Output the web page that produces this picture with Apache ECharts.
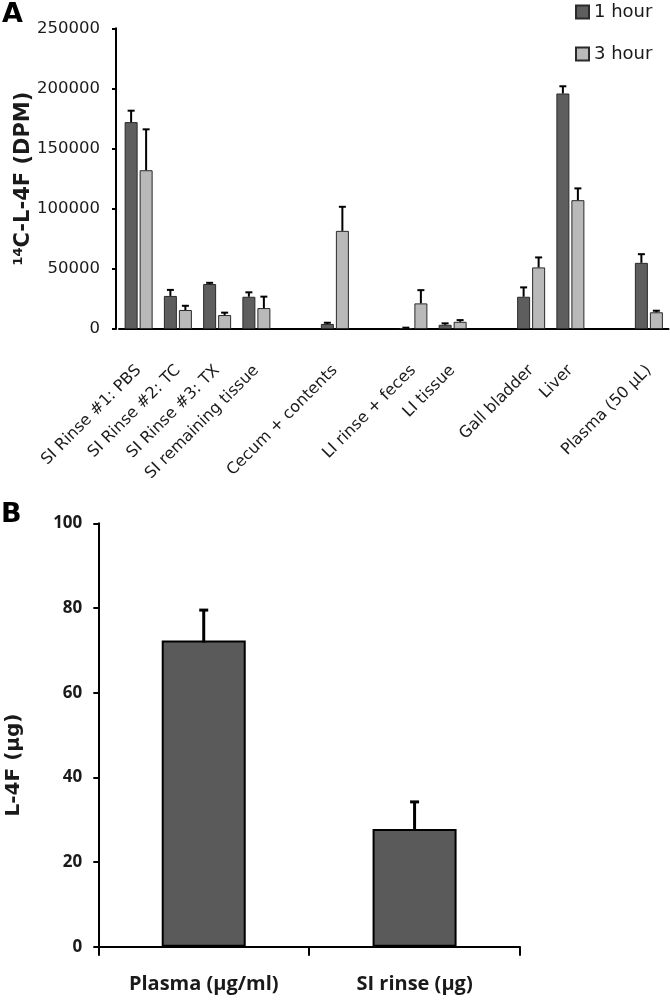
<!DOCTYPE html>
<html>
<head>
<meta charset="utf-8">
<script src="https://cdn.jsdelivr.net/npm/echarts@6/dist/echarts.min.js"></script>
<style>
html,body{margin:0;padding:0;background:#fff;}
#c{width:670px;height:1004px;}
</style>
</head>
<body>
<div id="c"></div>
<script>
// ---- Panel A data ----
const catsA = ['SI Rinse #1: PBS','SI Rinse #2: TC','SI Rinse #3: TX','SI remaining tissue','',
  'Cecum + contents','','LI rinse + feces','LI tissue','','Gall bladder','Liver','','Plasma (50 \u00b5L)'];
const hour1 = [172000, 27500, 37400, 26800, null, 4200, null, 800, 3500, null, 26800, 195800, null, 55000];
const hour1Err = [9500, 5000, 1000, 3700, null, 1000, null, 300, 1200, null, 7800, 6000, null, 7200];
const hour3 = [132000, 15800, 11600, 17400, null, 81600, null, 21300, 6000, null, 51200, 107100, null, 13900];
const hour3Err = [34000, 3500, 2000, 9500, null, 20000, null, 11000, 1400, null, 8300, 9800, null, 1300];
const ticksA = {min: 0, max: 250000, interval: 50000};

// ---- Panel B data ----
const catsB = ['Plasma (\u00b5g/ml)', 'SI rinse (\u00b5g)'];
const valsB = [72.3, 27.8];
const errB = [7.2, 6.4];
const ticksB = {min: 0, max: 100, interval: 20};

const barWA = 13, gapA = 2;
const offA = (barWA + gapA) / 2;

function errData(vals, errs, sign) {
  const out = [];
  vals.forEach((v, i) => { if (v != null) out.push([i, v, errs[i], sign]); });
  return out;
}

function errRender(lineW, capW, startPad) {
  return function (params, api) {
    const idx = api.value(0), v = api.value(1), e = api.value(2), s = api.value(3);
    const p0 = api.coord([idx, v]);
    const p1 = api.coord([idx, v + e]);
    const x = p0[0] + s * offA;
    const style = {stroke: '#000', lineWidth: lineW};
    return {
      type: 'group',
      children: [
        {type: 'line', shape: {x1: x, y1: p0[1] + startPad, x2: x, y2: p1[1]}, style: style},
        {type: 'line', shape: {x1: x - capW / 2, y1: p1[1], x2: x + capW / 2, y2: p1[1]}, style: style}
      ]
    };
  };
}

const chart = echarts.init(document.getElementById('c'), null, {renderer: 'canvas'});
const txt = '#1a1a1a';
chart.setOption({
  animation: false,
  backgroundColor: '#fff',
  title: [
    {text: 'A', left: 2, top: 1, padding: 0, textStyle: {fontFamily: 'DejaVu Sans', fontWeight: 'bold', fontSize: 27, color: '#000'}},
    {text: 'B', left: 1, top: 501, padding: 0, textStyle: {fontFamily: 'DejaVu Sans', fontWeight: 'bold', fontSize: 27, color: '#000'}}
  ],
  legend: {
    data: ['1 hour', '3 hour'],
    orient: 'vertical',
    left: 575, top: 3,
    itemWidth: 13, itemHeight: 13, itemGap: 24,
    icon: 'rect',
    textStyle: {fontFamily: 'DejaVu Sans', fontSize: 18, color: txt},
    padding: 0
  },
  grid: [
    {left: 119, top: 28.3, width: 549.5, height: 300.7, outerBoundsMode: 'none', containLabel: false},
    {left: 98.3, top: 523.3, width: 421.7, height: 423.4, outerBoundsMode: 'none', containLabel: false}
  ],
  xAxis: [
    {
      type: 'category', gridIndex: 0, data: catsA,
      axisLine: {lineStyle: {color: '#000', width: 2}},
      axisTick: {show: false},
      axisLabel: {interval: 0, rotate: 45, margin: 39, fontFamily: 'DejaVu Sans', fontSize: 16, color: txt}
    },
    {
      type: 'category', gridIndex: 1, data: catsB,
      axisLine: {lineStyle: {color: '#000', width: 2}},
      axisTick: {show: true, length: 9, lineStyle: {color: '#000', width: 2}},
      axisLabel: {margin: 28, fontFamily: 'Open Sans', fontWeight: 'bold', fontSize: 20, color: txt}
    }
  ],
  yAxis: [
    {
      type: 'value', gridIndex: 0, min: ticksA.min, max: ticksA.max, interval: ticksA.interval,
      offset: 3,
      splitLine: {show: false},
      axisLine: {show: true, lineStyle: {color: '#000', width: 2}},
      axisTick: {show: true, length: 4, lineStyle: {color: '#000', width: 2}},
      axisLabel: {margin: 16, fontFamily: 'DejaVu Sans', fontSize: 16.5, color: txt, formatter: v => String(v)},
      name: '{sup|14}{m|C-L-4F (DPM)}',
      nameLocation: 'middle', nameGap: 80, nameMoveOverlap: false,
      nameTextStyle: {
        rich: {
          sup: {fontFamily: 'DejaVu Sans', fontWeight: 'bold', fontSize: 13, color: txt, verticalAlign: 'top', lineHeight: 24},
          m: {fontFamily: 'DejaVu Sans', fontWeight: 'bold', fontSize: 21, color: txt, lineHeight: 24}
        }
      }
    },
    {
      type: 'value', gridIndex: 1, min: ticksB.min, max: ticksB.max, interval: ticksB.interval,
      splitLine: {show: false},
      axisLine: {show: true, lineStyle: {color: '#000', width: 2}},
      axisTick: {show: true, length: 5, lineStyle: {color: '#000', width: 2}},
      axisLabel: {margin: 16, fontFamily: 'Open Sans', fontWeight: 'bold', fontSize: 17, color: txt, formatter: v => String(v)},
      name: 'L-4F (\u00b5g)',
      nameLocation: 'middle', nameGap: 75, nameMoveOverlap: false,
      nameTextStyle: {fontFamily: 'DejaVu Sans', fontWeight: 'bold', fontSize: 20, color: txt, padding: [0, 60, 0, 0]}
    }
  ],
  series: [
    {
      name: '1 hour', type: 'bar', xAxisIndex: 0, yAxisIndex: 0, data: hour1,
      barWidth: barWA, barGap: (gapA / barWA * 100) + '%',
      itemStyle: {color: '#5e5e5e', borderColor: '#2a2a2a', borderWidth: 1}
    },
    {
      name: '3 hour', type: 'bar', xAxisIndex: 0, yAxisIndex: 0, data: hour3,
      barWidth: barWA, barGap: (gapA / barWA * 100) + '%',
      itemStyle: {color: '#b9b9b9', borderColor: '#2a2a2a', borderWidth: 1}
    },
    {
      type: 'custom', xAxisIndex: 0, yAxisIndex: 0, z: 5,
      renderItem: errRender(2, 7, 0), encode: {x: 0, y: 1},
      data: errData(hour1, hour1Err, -1), silent: true
    },
    {
      type: 'custom', xAxisIndex: 0, yAxisIndex: 0, z: 5,
      renderItem: errRender(2, 7, 0), encode: {x: 0, y: 1},
      data: errData(hour3, hour3Err, 1), silent: true
    },
    {
      name: 'L-4F', type: 'bar', xAxisIndex: 1, yAxisIndex: 1, data: valsB,
      barWidth: 84,
      itemStyle: {color: '#5a5a5a', borderColor: '#000', borderWidth: 2}
    },
    {
      type: 'custom', xAxisIndex: 1, yAxisIndex: 1, z: 5,
      renderItem: errRender(3, 9, 2), encode: {x: 0, y: 1},
      data: errData(valsB, errB, 0), silent: true
    }
  ]
});
</script>
</body>
</html>
